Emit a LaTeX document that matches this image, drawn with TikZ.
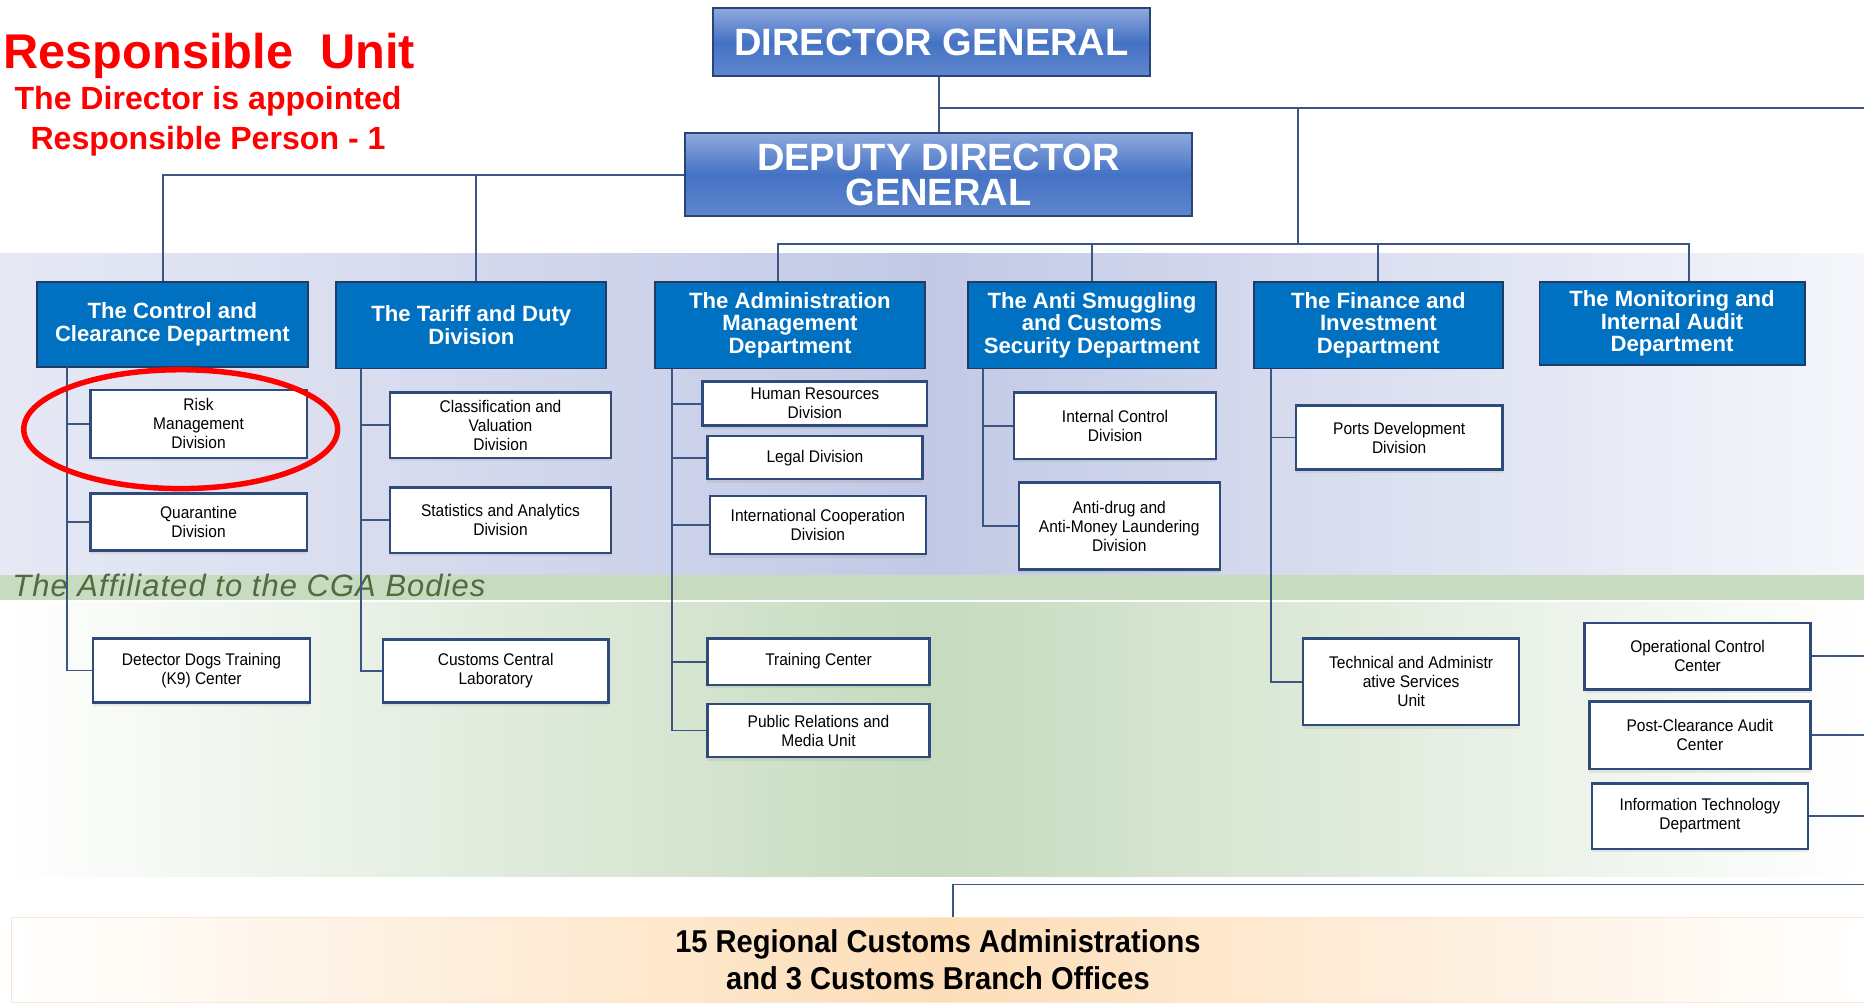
\documentclass[tikz,border=0pt]{standalone}
\usepackage{fontspec}
\setmainfont{Liberation Sans}
\newfontfamily\narrowfont{Liberation Sans}[FakeStretch=0.92]
\usetikzlibrary{shadows}
\definecolor{deptblue}{HTML}{0070C0}
\definecolor{deptline}{HTML}{1F3B66}
\definecolor{linkblue}{HTML}{3B5683}
\definecolor{unitline}{HTML}{2F4B7C}
\definecolor{headblue}{HTML}{4472C4}
\definecolor{headtop}{HTML}{8FA9DE}
\definecolor{bandblue}{HTML}{C2C9E5}
\definecolor{bandgreen}{HTML}{C6DBBF}
\definecolor{txtgreen}{HTML}{4F6B3F}
\definecolor{bandorange}{HTML}{FDDDB7}

\begin{document}
\begin{tikzpicture}[x=0.5pt, y=-0.5pt,
  wh/.style 2 args={minimum width=#1*0.5pt, minimum height=#2*0.5pt, inner sep=0pt},
  head/.style={draw=headblue!60!black, line width=0.8pt, top color=headtop, bottom color=headblue!85, middle color=headblue, text=white, font=\bfseries\fontsize{16}{15}\selectfont, align=center},
  dept/.style={draw=deptline, line width=0.8pt, fill=deptblue, text=white, font=\bfseries\fontsize{9.3}{9.6}\selectfont, align=center},
  unit/.style={draw=unitline, line width=1pt, fill=white, font=\narrowfont\fontsize{7.1}{8}\selectfont, align=center, drop shadow={opacity=0.15, shadow xshift=0pt, shadow yshift=-1.5pt}},
  link/.style={draw=linkblue, line width=0.8pt},
  redtext/.style={text=red, anchor=base, inner sep=0pt}
]
\useasboundingbox (0,0) rectangle (1568,843);

\fill[left color=bandblue!40, right color=bandblue!15, middle color=bandblue] (0,213) rectangle (1568,484);
\fill[bandgreen] (0,484) rectangle (1568,505);
\fill[left color=white, right color=white, middle color=bandgreen] (0,507) rectangle (1568,737);

\node[redtext, font=\bfseries\fontsize{20.5}{20}\selectfont] (ru) at (176,57.5) {Responsible~~Unit};
\node[redtext, font=\bfseries\fontsize{13.5}{14}\selectfont] (rd) at (175,92.5) {The Director is appointed};
\node[redtext, font=\bfseries\fontsize{13.5}{14}\selectfont] (rp) at (175,126) {Responsible Person - 1};
\node[anchor=base west, inner sep=0pt, text=txtgreen, font=\itshape\fontsize{13}{13}\selectfont\addfontfeature{LetterSpace=3.5}] (cga) at (10,502) {The Affiliated to the CGA Bodies};

\node[head, wh={367}{57}] (dg) at (783.5,35.5) {DIRECTOR GENERAL};
\node[head, wh={427}{70}] (ddg) at (789.5,147) {DEPUTY DIRECTOR\\GENERAL};

\node[dept, wh={228}{72}] (dcc) at (145,273) {The Control and\\Clearance Department};
\node[dept, wh={227}{73}] (tdd) at (396.5,273.5) {The Tariff and Duty\\Division};
\node[dept, wh={227}{73}] (adm) at (664.5,273.5) {The Administration\\Management\\Department};
\node[dept, wh={209}{73}] (asd) at (918.5,273.5) {The Anti Smuggling\\and Customs\\Security Department};
\node[dept, wh={209}{73}] (fid) at (1159.5,273.5) {The Finance and\\Investment\\Department};
\node[dept, wh={223}{70}] (mad) at (1406.5,272) {The Monitoring and\\Internal Audit\\Department};

\node[unit, wh={182}{57}] (rmd) at (167,356.5) {Risk\\Management\\Division};
\node[unit, wh={182}{48}] (qd) at (167,439) {Quarantine\\Division};
\node[unit, wh={183}{54}] (k9) at (169.5,564) {Detector Dogs Training\\(K9) Center};
\node[unit, wh={186}{55}] (cvd) at (421,357.5) {Classification and\\Valuation\\Division};
\node[unit, wh={186}{55}] (sad) at (421,437.5) {Statistics and Analytics\\Division};
\node[unit, wh={190}{53}] (ccl) at (417,564.5) {Customs Central\\Laboratory};
\node[unit, wh={189}{37}] (hrd) at (685.5,339.5) {Human Resources\\Division};
\node[unit, wh={181}{36}] (lgd) at (685.5,385) {Legal Division};
\node[unit, wh={182}{49}] (icd) at (688,441.5) {International Cooperation\\Division};
\node[unit, wh={187}{39}] (trc) at (688.5,556.5) {Training Center};
\node[unit, wh={187}{45}] (prm) at (688.5,614.5) {Public Relations and\\Media Unit};
\node[unit, wh={170}{56}] (inc) at (938,358) {Internal Control\\Division};
\node[unit, wh={169}{73}] (aml) at (941.5,442.5) {Anti-drug and\\Anti-Money Laundering\\Division};
\node[unit, wh={174}{54}] (pdd) at (1177,368) {Ports Development\\Division};
\node[unit, wh={182}{73}] (tas) at (1187,573.5) {Technical and Administr\\ative Services\\Unit};
\node[unit, wh={190}{56}] (occ) at (1428,552) {Operational Control\\Center};
\node[unit, wh={186}{57}] (pca) at (1430,618.5) {Post-Clearance Audit\\Center};
\node[unit, wh={182}{55}] (itd) at (1430,686.5) {Information Technology\\Department};

\node[wh={1558}{71}, draw=orange!20, left color=white, right color=white, middle color=bandorange, font=\narrowfont\bfseries\fontsize{13.3}{15.5}\selectfont, align=center] (reg) at (789,807.5) {15 Regional Customs Administrations\\and 3 Customs Branch Offices};

\coordinate (edge) at (1568,91);
\coordinate (bus) at (1092,205);
\coordinate (feed) at (802,744);
\coordinate (s1) at (56,309);
\coordinate (s2) at (304,310);
\coordinate (s3) at (565,310);
\coordinate (s4) at (827,310);
\coordinate (s5) at (1069,310);

\draw[link] (ddg.north) -- (ddg.north |- dg.south);
\draw[link] (ddg.north |- dg.south) |- (edge);
\draw[link] (bus) -- (bus |- edge);
\draw[link] (ddg.west) -| ([xshift=-4pt]dcc.north);
\draw[link] ([xshift=2pt]tdd.north) -- ([xshift=2pt]tdd.north |- ddg.west);
\draw[link] ([xshift=-5pt]adm.north) |- (bus) -| ([xshift=7pt]mad.north);
\draw[link] (asd.north) -- (asd.north |- bus);
\draw[link] (fid.north) -- (fid.north |- bus);

\draw[link] (s1) |- (rmd.west);
\draw[link] (s1) |- (qd.west);
\draw[link] (s1) |- (k9.west);
\draw[link] (s2) |- (cvd.west);
\draw[link] (s2) |- (sad.west);
\draw[link] (s2) |- (ccl.west);
\draw[link] (s3) |- (hrd.west);
\draw[link] (s3) |- (lgd.west);
\draw[link] (s3) |- (icd.west);
\draw[link] (s3) |- (trc.west);
\draw[link] (s3) |- (prm.west);
\draw[link] (s4) |- (inc.west);
\draw[link] (s4) |- (aml.west);
\draw[link] (s5) |- (pdd.west);
\draw[link] (s5) |- (tas.west);

\draw[link] (occ.east) -- (occ.east -| edge);
\draw[link] (pca.east) -- (pca.east -| edge);
\draw[link] (itd.east) -- (itd.east -| edge);
\draw[link] (reg.north -| feed) -- (feed) -- (feed -| edge);

\draw[red, line width=2.3pt] (152,361) ellipse [x radius=66pt, y radius=25pt];
\end{tikzpicture}
\end{document}
